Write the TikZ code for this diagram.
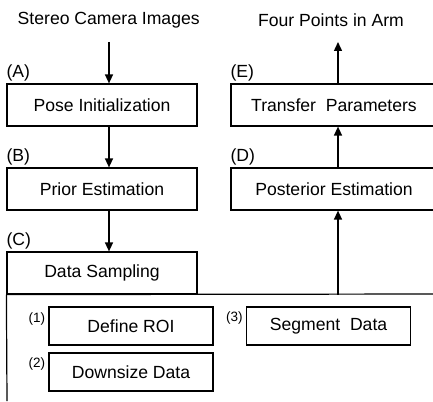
\documentclass[tikz,border=0pt]{standalone}
\usepackage{fontspec}
\setmainfont{Liberation Sans}
\usetikzlibrary{arrows.meta}
\begin{document}
\begin{tikzpicture}[x=1pt,y=-1pt,
  every node/.style={font=\fontsize{17.6}{20}\selectfont},
  stagebox/.style={draw,line width=1.2pt,minimum height=42pt,inner sep=0pt},
  leftbox/.style={stagebox,minimum width=190pt},
  rightbox/.style={stagebox,minimum width=206pt},
  subbox/.style={draw,line width=1.2pt,minimum width=164pt,minimum height=38pt,inner sep=0pt},
  tag/.style={inner sep=0pt,anchor=south west},
  subtag/.style={inner sep=0pt,anchor=north east,font=\fontsize{13.5}{16}\selectfont},
  link/.style={line width=1.4pt,-{Triangle[length=9pt,width=8pt]}},
  wire/.style={line width=1.2pt}]
  \clip (0,0) rectangle (433,401);

  % inputs and outputs
  \node (cam) at (108.7,20) {Stereo Camera Images};
  \node (arm) at (331,20) {Four Points in Arm};
  \coordinate (camout) at (109,42);
  \coordinate (armin) at (338,42);

  % left column
  \node[leftbox] (pose)  at (102,105) {Pose Initialization};
  \node[leftbox] (prior) at (102,189) {Prior Estimation};
  \node[leftbox] (ds)    at (102,273) {Data Sampling};

  % right column
  \node[rightbox] (trans) at (334,105) {Transfer\ \ Parameters};
  \node[rightbox] (post)  at (334,189) {Posterior Estimation};

  % stage tags
  \node[tag] (tA) at ([yshift=2pt]pose.north west)  {(A)};
  \node[tag] (tB) at ([yshift=2pt]prior.north west) {(B)};
  \node[tag] (tC) at ([yshift=2pt]ds.north west)    {(C)};
  \node[tag] (tD) at ([yshift=2pt]post.north west)  {(D)};
  \node[tag] (tE) at ([yshift=2pt]trans.north west) {(E)};

  % sampling sub-steps
  \node[subbox] (roi)  at (131,326)   {Define ROI};
  \node[subbox] (down) at (131,372)   {Downsize Data};
  \node[subbox] (seg)  at (328.5,326) {Segment\ \ Data};
  \node[subtag] (t1) at ([xshift=-3pt,yshift=-6pt]roi.north west)  {(1)};
  \node[subtag] (t2) at ([xshift=-3pt,yshift=-5pt]down.north west) {(2)};
  \node[subtag] (t3) at ([xshift=-3pt,yshift=-5pt]seg.north west)  {(3)};

  % enclosure of the sampling stage
  \coordinate (encend) at (433,294);
  \coordinate (encfoot) at (7,401);
  \draw[wire] (ds.south west) -- (encend);
  \draw[wire] (ds.south west) -- (encfoot);

  % flow arrows
  \draw[link] (camout) -- (camout |- pose.north);
  \draw[link] (pose.south -| camout) -- (prior.north -| camout);
  \draw[link] (prior.south -| camout) -- (ds.north -| camout);
  \draw[link] (ds.south -| armin) -- (post.south -| armin);
  \draw[link] (post.north -| armin) -- (trans.south -| armin);
  \draw[link] (trans.north -| armin) -- (armin);
\end{tikzpicture}
\end{document}
